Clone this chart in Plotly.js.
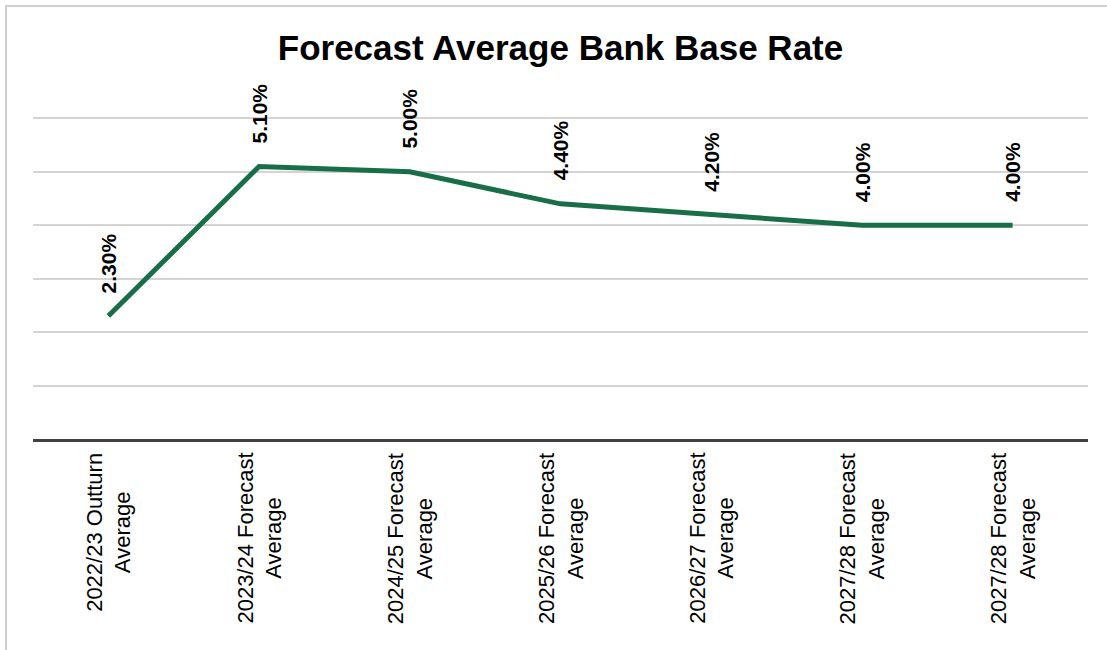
<!DOCTYPE html>
<html>
<head>
<meta charset="utf-8">
<script src="https://cdn.plot.ly/plotly-3.0.1.min.js"></script>
<style>
  html, body { margin: 0; padding: 0; background: #ffffff; overflow: hidden; }
  #frame { position: absolute; left: 5px; top: 5px; width: 1200px; height: 800px;
           border-left: 2px solid #cfcfcf; border-top: 2px solid #cfcfcf; pointer-events: none; z-index: 5; }
  #chart { position: absolute; left: 0; top: 0; width: 1107px; height: 650px; }
</style>
</head>
<body>
<div id="chart"></div>
<div id="frame"></div>
<script>
const categories = [
  "2022/23 Outturn<br>Average",
  "2023/24 Forecast<br>Average",
  "2024/25 Forecast<br>Average",
  "2025/26 Forecast<br>Average",
  "2026/27 Forecast<br>Average",
  "2027/28 Forecast<br>Average",
  "2027/28 Forecast<br>Average"
];
const rates = [2.3, 5.1, 5.0, 4.4, 4.2, 4.0, 4.0];
const positions = categories.map((c, i) => i);

const trace = {
  type: "scatter",
  mode: "lines",
  x: positions,
  y: rates,
  line: { color: "#186e46", width: 5 },
  hoverinfo: "skip"
};

const annotations = [];
rates.forEach((v, i) => {
  annotations.push({
    x: i, y: v, xref: "x", yref: "y",
    text: "<b>" + v.toFixed(2) + "%</b>",
    textangle: -90,
    showarrow: false,
    xanchor: "center", yanchor: "bottom",
    yshift: 21,
    font: { family: "Liberation Sans, Arial, sans-serif", size: 21, color: "#000000" }
  });
});
categories.forEach((c, i) => {
  annotations.push({
    x: i, y: 0, xref: "x", yref: "paper",
    text: c,
    textangle: -90,
    showarrow: false,
    align: "center",
    xanchor: "center", yanchor: "top",
    yshift: -12,
    font: { family: "Liberation Sans, Arial, sans-serif", size: 22, color: "#000000" }
  });
});

const layout = {
  width: 1107, height: 650,
  margin: { l: 33, r: 19, t: 113, b: 211 },
  paper_bgcolor: "#ffffff",
  plot_bgcolor: "#ffffff",
  showlegend: false,
  title: {
    text: "<b>Forecast Average Bank Base Rate</b>",
    x: 0.5, xref: "paper", xanchor: "center",
    y: 0.927, yref: "container", yanchor: "middle",
    font: { family: "Liberation Sans, Arial, sans-serif", size: 35, color: "#000000" }
  },
  xaxis: {
    range: [-0.5, 6.5],
    tickvals: positions,
    showticklabels: false,
    ticks: "",
    showgrid: false,
    zeroline: false,
    showline: true,
    linecolor: "#404040",
    linewidth: 3,
    fixedrange: true
  },
  yaxis: {
    range: [0, 6.1],
    tickvals: [0, 1, 2, 3, 4, 5, 6],
    showticklabels: false,
    ticks: "",
    showgrid: true,
    gridcolor: "#d4d4d4",
    gridwidth: 2,
    zeroline: false,
    showline: false,
    fixedrange: true
  },
  annotations: annotations
};

Plotly.newPlot("chart", [trace], layout, { displayModeBar: false, staticPlot: true });
</script>
</body>
</html>
